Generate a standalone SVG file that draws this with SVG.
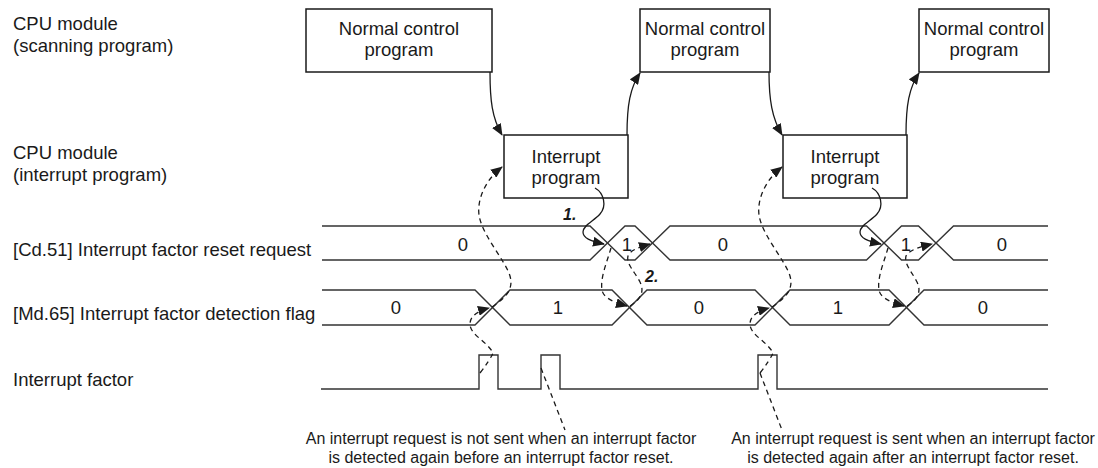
<svg xmlns="http://www.w3.org/2000/svg" width="1098" height="468" viewBox="0 0 1098 468">
<defs>
<style>
.t{font-family:"Liberation Sans",Arial,sans-serif;font-size:18.5px;fill:#1a1a1a}
.c{text-anchor:middle}
.s{font-size:16px}
.b{font-weight:bold;font-style:italic;font-size:16px}
.box{fill:#fff;stroke:#1a1a1a;stroke-width:1.5}
.w{fill:none;stroke:#333;stroke-width:1.4}
.a{fill:none;stroke:#1a1a1a;stroke-width:1.3;marker-end:url(#ah)}
.d{fill:none;stroke:#1a1a1a;stroke-width:1.3;stroke-dasharray:5 4}
.da{marker-end:url(#ah)}
</style>
<marker id="ah" viewBox="0 0 12 10" refX="11" refY="5" markerWidth="12" markerHeight="10" markerUnits="userSpaceOnUse" orient="auto"><path d="M0,0 L12,5 L0,10 z" fill="#1a1a1a"/></marker>
</defs>
<rect width="1098" height="468" fill="#fff"/>

<g id="labels">
<text class="t" x="13" y="30">CPU module</text>
<text class="t" x="13" y="52">(scanning program)</text>
<text class="t" x="13" y="159">CPU module</text>
<text class="t" x="13" y="181">(interrupt program)</text>
<text class="t" x="13" y="256">[Cd.51] Interrupt factor reset request</text>
<text class="t" x="13" y="319.5">[Md.65] Interrupt factor detection flag</text>
<text class="t" x="13" y="386">Interrupt factor</text>
</g>

<g id="normal1"><rect class="box" x="306" y="9" width="186" height="63"/><text class="t c" x="399" y="35">Normal control</text><text class="t c" x="399" y="56">program</text></g>
<g id="normal2"><rect class="box" x="640" y="9" width="130" height="63"/><text class="t c" x="705" y="35">Normal control</text><text class="t c" x="705" y="56">program</text></g>
<g id="normal3"><rect class="box" x="919" y="9" width="130" height="63"/><text class="t c" x="984" y="35">Normal control</text><text class="t c" x="984" y="56">program</text></g>
<g id="interrupt1"><rect class="box" x="504" y="135" width="124" height="63"/><text class="t c" x="566" y="163">Interrupt</text><text class="t c" x="566" y="184">program</text></g>
<g id="interrupt2"><rect class="box" x="783" y="135" width="124" height="63"/><text class="t c" x="845" y="163">Interrupt</text><text class="t c" x="845" y="184">program</text></g>

<g id="cd51">
<path class="w" d="M322,226 H590 L625,260 H635 L670,226 H866.5 L901.5,260 H918.5 L953.5,226 H1048"/>
<path class="w" d="M322,260 H590 L625,226 H635 L670,260 H866.5 L901.5,226 H918.5 L953.5,260 H1048"/>
<text class="t c" x="463" y="250.5">0</text>
<text class="t c" x="627" y="250.5">1</text>
<text class="t c" x="723" y="250.5">0</text>
<text class="t c" x="906" y="250.5">1</text>
<text class="t c" x="1002" y="250.5">0</text>
</g>

<g id="md65">
<path class="w" d="M322,290 H475 L510,325 H612 L647,290 H755 L790,325 H889 L924,290 H1048"/>
<path class="w" d="M322,325 H475 L510,290 H612 L647,325 H755 L790,290 H889 L924,325 H1048"/>
<text class="t c" x="396" y="314">0</text>
<text class="t c" x="558" y="314">1</text>
<text class="t c" x="699" y="314">0</text>
<text class="t c" x="838" y="314">1</text>
<text class="t c" x="983" y="314">0</text>
</g>

<g id="factor">
<path class="w" d="M321,389 H479 V355 H498 V389 H541 V355 H560 V389 H758 V355 H777 V389 H1048"/>
</g>

<g id="connectors">
<path class="a" d="M490,72 C490,100 492,118 502,135"/>
<path class="a" d="M627,135 C627,105 630,88 640,73"/>
<path class="a" d="M769,72 C769,100 772,118 782,135"/>
<path class="a" d="M906,135 C906,105 909,88 919,73"/>

<path class="d da" d="M480,373 Q490,360 493,353 C488,342 470,335 470,324 C470,316 478,311 489,308"/>
<path class="d da" d="M492,307 C505,298 514,290 510,276 C505,260 482,235 479,215 C477,200 485,180 502,167"/>
<path class="a" d="M595,188 C604,193 607,206 600,214 C594,221 583,225 583,232 C583,238 590,241 604,244"/>
<path class="d da" d="M611,248 C607,262 600,278 602,290 C603,297 612,302 627,306"/>
<path class="d da" d="M630,306 C640,300 645,292 640,282 C635,272 626,264 628,256 C630,250 640,247 650,244"/>

<path class="d da" d="M760,373 Q770,360 773,353 C768,342 750,335 750,324 C750,316 758,311 769,308"/>
<path class="d da" d="M772,307 C785,298 794,290 790,276 C785,260 762,235 759,215 C757,200 765,180 782,167"/>
<path class="a" d="M872,188 C881,193 884,206 877,214 C871,221 860,225 860,232 C860,238 867,241 881,244"/>
<path class="d da" d="M888,248 C884,262 877,278 879,290 C880,297 889,302 904,306"/>
<path class="d da" d="M907,306 C917,300 922,292 917,282 C912,272 904,264 906,256 C909,250 920,247 932,244"/>

<path class="d" d="M541,368 L565,430"/>
<path class="d" d="M760,373 L782,430"/>
</g>

<g id="steps">
<text class="t b" x="563" y="220">1.</text>
<text class="t b" x="645" y="282">2.</text>
</g>

<g id="notes">
<text class="t s c" x="501" y="444">An interrupt request is not sent when an interrupt factor</text>
<text class="t s c" x="501" y="463">is detected again before an interrupt factor reset.</text>
<text class="t s c" x="913" y="444">An interrupt request is sent when an interrupt factor</text>
<text class="t s c" x="913" y="463">is detected again after an interrupt factor reset.</text>
</g>
</svg>
